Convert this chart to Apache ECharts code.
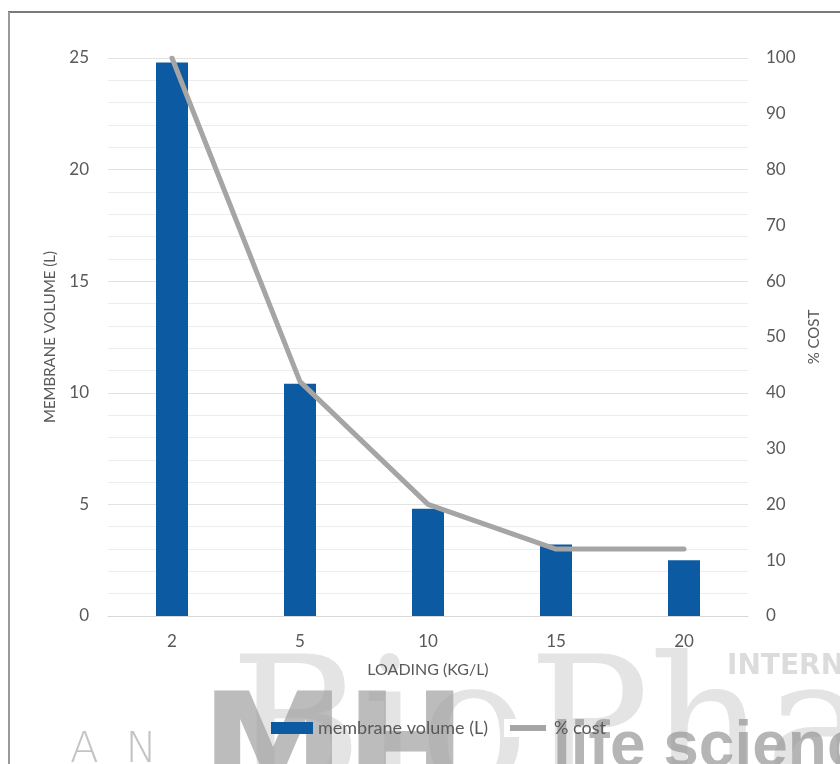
<!DOCTYPE html>
<html>
<head>
<meta charset="utf-8">
<script src="https://cdn.jsdelivr.net/npm/echarts@6/dist/echarts.min.js"></script>
<style>html,body{margin:0;padding:0;background:#fff;}#c{width:840px;height:764px;}</style>
</head>
<body>
<div id="c"></div>
<script>
const categories = ['2', '5', '10', '15', '20'];
const membraneVolume = [24.8, 10.4, 4.8, 3.2, 2.5];
const pctCost = [100, 42, 20, 12, 12];
const seriesNames = ['membrane volume (L)', '% cost'];

const chart = echarts.init(document.getElementById('c'));
const F = 'Lato, "Open Sans", sans-serif';
const TXT = '#595959';
chart.setOption({
  animation: false,
  backgroundColor: '#fff',
  grid: { left: 108, right: 92, top: 58, bottom: 148 },
  legend: {
    left: 266, top: 714,
    itemWidth: 42, itemHeight: 12, itemGap: 16,
    textStyle: { color: TXT, fontSize: 18, fontFamily: F },
    data: [
      { name: seriesNames[0], icon: 'rect' },
      { name: seriesNames[1], icon: 'rect', itemStyle: { color: '#a5a5a5', borderColor: '#ffffff', borderWidth: 6 } }
    ]
  },
  xAxis: {
    type: 'category', data: categories,
    name: 'LOADING (KG/L)', nameLocation: 'middle', nameGap: 46,
    nameTextStyle: { color: TXT, fontSize: 16, fontFamily: F },
    axisLine: { show: true, lineStyle: { color: '#d9d9d9' } },
    axisTick: { show: false },
    axisLabel: { color: TXT, fontSize: 17, fontFamily: F, margin: 17 }
  },
  yAxis: [
    {
      type: 'value', min: 0, max: 25, interval: 5,
      name: 'MEMBRANE VOLUME (L)', nameLocation: 'middle', nameGap: 50, nameRotate: 90,
      nameTextStyle: { color: TXT, fontSize: 15, fontFamily: F },
      axisLine: { show: false }, axisTick: { show: false },
      axisLabel: { color: TXT, fontSize: 17, fontFamily: F, margin: 19 },
      splitLine: { lineStyle: { color: '#e3e3e3' } },
      minorTick: { show: false, splitNumber: 5 },
      minorSplitLine: { show: true, lineStyle: { color: '#ececec' } }
    },
    {
      type: 'value', min: 0, max: 100, interval: 10,
      name: '% COST', nameLocation: 'middle', nameGap: 58, nameRotate: 90,
      nameTextStyle: { color: TXT, fontSize: 15, fontFamily: F },
      axisLine: { show: false }, axisTick: { show: false },
      axisLabel: { color: TXT, fontSize: 17, fontFamily: F, margin: 18 },
      splitLine: { show: false }
    }
  ],
  series: [
    {
      name: seriesNames[0], type: 'bar', data: membraneVolume, yAxisIndex: 0,
      barWidth: '25%', itemStyle: { color: '#0b5aa2' }, z: 3
    },
    {
      name: seriesNames[1], type: 'line', data: pctCost, yAxisIndex: 1,
      symbol: 'none', lineStyle: { color: '#a5a5a5', width: 5, cap: 'round', join: 'round' },
      itemStyle: { color: '#a5a5a5' }, z: 4
    }
  ],
  graphic: [
    { type: 'line', shape: { x1: 8, y1: 12, x2: 840, y2: 12 }, style: { stroke: '#7a7a7a', lineWidth: 2 }, z: 10 },
    { type: 'line', shape: { x1: 9, y1: 12, x2: 9, y2: 764 }, style: { stroke: '#9a9a9a', lineWidth: 2 }, z: 10 },
    { type: 'text', left: 230, top: 648, z: -1, silent: true,
      style: { text: 'BioPharm', fill: '#e4e4e4', font: '180px "DejaVu Serif", serif' } },
    { type: 'text', left: 727, top: 653, z: -1, silent: true,
      style: { text: 'INTERNATIONAL', fill: '#dcdcdc', font: 'bold 28px "DejaVu Sans", sans-serif' } },
    { type: 'text', left: 201, top: 686, z: -1, silent: true,
      style: { text: 'MH', fill: 'rgba(160,160,160,0.7)', font: 'bold 145px "DejaVu Sans", sans-serif' } },
    { type: 'text', left: 70, top: 730, z: -1, silent: true,
      style: { text: 'A  N', fill: '#c4c4c4', font: '200 42px "DejaVu Sans", sans-serif' } },
    { type: 'text', left: 553, top: 716, z: -1, silent: true,
      style: { text: 'life sciences', fill: 'rgba(150,150,150,0.7)', font: 'bold 64px "Liberation Sans", Arial, sans-serif' } }
  ]
});
</script>
</body>
</html>
